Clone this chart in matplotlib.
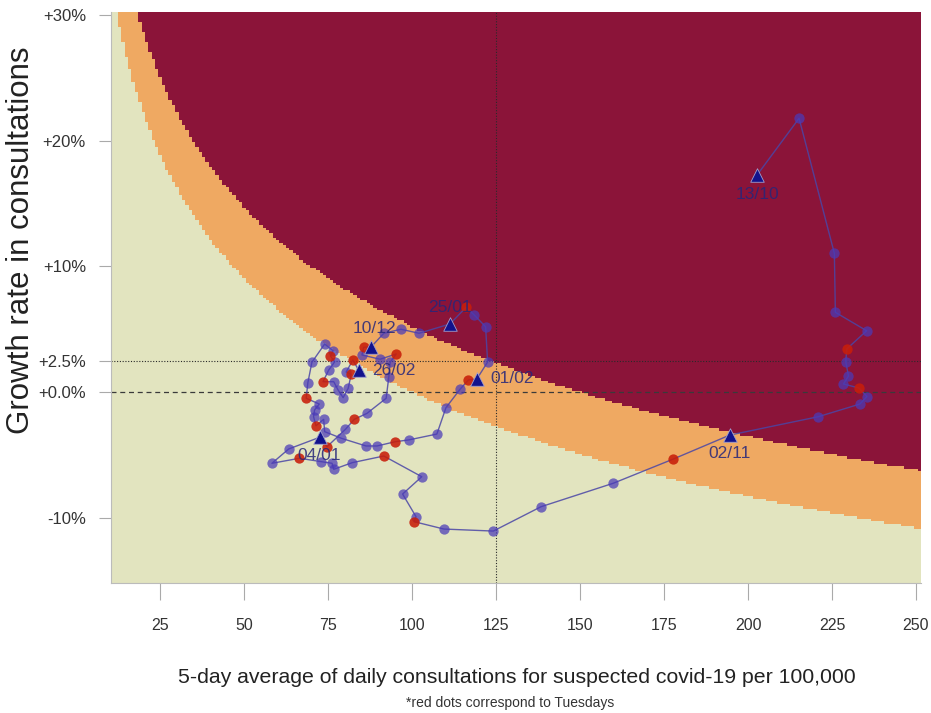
import numpy as np
import matplotlib
matplotlib.use("Agg")
import matplotlib.pyplot as plt
from matplotlib.colors import ListedColormap

# ---------------- data ----------------
level = [202.7, 215.2, 225.7, 226.0, 235.3, 229.4, 229.1, 229.9, 228.4, 233.0,
         235.4, 233.3, 220.9, 194.6, 177.6, 159.9, 138.4, 124.2, 109.5, 100.6,
         101.2, 97.2, 102.9, 91.6, 82.2, 76.7, 76.2, 73.0, 66.5, 58.3,
         63.3, 72.5, 74.7, 80.2, 82.8, 86.6, 92.3, 93.1, 93.5, 95.3,
         90.5, 85.1, 85.6, 87.9, 91.6, 96.7, 102.1, 111.3, 116.1, 118.5,
         121.9, 122.5, 119.3, 116.8, 114.3, 110.1, 107.4, 99.0, 95.0, 89.6,
         86.3, 79.0, 74.0, 73.7, 71.4, 70.7, 71.0, 72.4, 68.5, 69.0,
         70.2, 74.0, 76.5, 75.7, 77.0, 75.2, 73.5, 76.7, 78.0, 79.5,
         81.0, 81.9, 80.4, 82.4, 84.1]
growth = [17.29, 21.81, 11.05, 6.35, 4.88, 3.43, 2.41, 1.27, 0.64, 0.32,
          -0.36, -0.96, -1.97, -3.43, -5.36, -7.27, -9.14, -11.08, -10.92, -10.33,
          -9.94, -8.13, -6.75, -5.10, -5.63, -6.16, -5.68, -5.55, -5.28, -5.68,
          -4.54, -3.61, -4.36, -2.97, -2.18, -1.70, -0.50, 1.22, 2.37, 3.03,
          2.61, 2.95, 3.56, 3.61, 4.68, 5.00, 4.68, 5.42, 6.75, 6.14,
          5.20, 2.39, 1.04, 0.96, 0.22, -1.25, -3.35, -3.82, -3.96, -4.30,
          -4.30, -3.69, -3.16, -2.18, -2.69, -1.97, -1.43, -0.96, -0.50, 0.74,
          2.37, 3.82, 3.29, 2.87, 2.41, 1.75, 0.82, 0.82, 0.16, -0.45,
          0.29, 1.41, 1.59, 2.55, 1.75]
tuesday_idx = [5, 9, 14, 19, 23, 28, 32, 34, 39, 42, 48, 53, 58, 64, 68, 73, 76, 81, 83]
milestone_idx = [0, 13, 31, 43, 47, 52, 84]
milestone_lbl = ["13/10", "02/11", "04/01", "10/12", "25/01", "01/02", "26/02"]

x_ticks = [25, 50, 75, 100, 125, 150, 175, 200, 225, 250]
y_ticks = [30, 20, 10, 2.5, 0, -10]
y_ticklabels = ["+30%", "+20%", "+10%", "+2.5%", "+0.0%", "-10%"]

# zone thresholds: projected level = level * (1 + growth)^horizon
thr_orange = 100
thr_red = 150
horizon = 8
ref_level = 125
ref_growth_hi = 2.5
ref_growth_0 = 0.0

c_green, c_orange, c_red = "#E2E4BF", "#EFA962", "#8B1439"

plt.rcParams['font.family'] = ['Liberation Sans', 'DejaVu Sans']

fig = plt.figure(figsize=(9.31, 7.13), dpi=100)
ax = fig.add_axes([0.1192, 0.1823, 0.8701, 0.8009])

xlim = (10.4, 251.5)
ylim = (-15.22, 30.28)

gx = np.arange(10.0, 253.0, 1.0)
gy = np.arange(-15.4, 30.6, 0.2)
GX, GY = np.meshgrid(gx, gy)
proj = GX * (1 + GY / 100.0) ** horizon
zone = np.where(proj > thr_red, 2, np.where(proj > thr_orange, 1, 0))
ax.pcolormesh(gx, gy, zone, cmap=ListedColormap([c_green, c_orange, c_red]),
              vmin=-0.5, vmax=2.5, shading='nearest', zorder=0)

ax.axvline(ref_level, color="#2a2a2a", lw=0.8, ls=(0, (1, 1.5)), zorder=1)
ax.axhline(ref_growth_hi, color="#2a2a2a", lw=0.8, ls=(0, (1, 1.5)), zorder=1)
ax.axhline(ref_growth_0, color="#3a3a3a", lw=0.9, ls=(0, (4, 3)), zorder=1)

lv = np.array(level)
gr = np.array(growth)
ax.plot(lv, gr, color="#4A46A6", lw=1.0, alpha=0.85, zorder=3)

other = [i for i in range(len(lv)) if i not in tuesday_idx and i not in milestone_idx]
ax.scatter(lv[other], gr[other], s=55, color="#4A3AB8", alpha=0.72, linewidths=0, zorder=4)
ax.scatter(lv[tuesday_idx], gr[tuesday_idx], s=55, color="#C81E0A", alpha=0.88, linewidths=0, zorder=4)
ax.scatter(lv[milestone_idx], gr[milestone_idx], s=95, marker="^", color="#12128C",
           edgecolors="#A0A0D0", linewidths=0.6, zorder=5)

offsets = {"13/10": (0, -14, "center", "center"),
           "02/11": (0, -13, "center", "center"),
           "04/01": (0, -13, "center", "center"),
           "10/12": (2, 13, "center", "center"),
           "25/01": (0, 12, "center", "center"),
           "01/02": (10, 0, "left", "center"),
           "26/02": (10, 0, "left", "center")}
for i, lab in zip(milestone_idx, milestone_lbl):
    dx, dy, ha, va = offsets[lab]
    ax.annotate(lab, (lv[i], gr[i]), xytext=(dx, dy), textcoords="offset points",
                ha=ha, va=va, fontsize=12.5, color="#26267A", alpha=0.85, zorder=6)

ax.set_xlim(*xlim)
ax.set_ylim(*ylim)
ax.set_xticks(x_ticks)
ax.set_xticklabels([str(t) for t in x_ticks])
ax.set_yticks(y_ticks)
ax.set_yticklabels(y_ticklabels)
ax.tick_params(axis="x", length=12, width=0.8, color="#AAAAAA", pad=13,
               labelsize=11.5, labelcolor="#333333")
ax.tick_params(axis="y", length=9, width=0.8, color="#AAAAAA", pad=9,
               labelsize=12, labelcolor="#333333")
for s in ax.spines.values():
    s.set_color("#BBBBBB")
    s.set_linewidth(0.8)
ax.spines["top"].set_visible(False)
ax.spines["right"].set_visible(False)

fig.text(0.0226, 0.6634, "Growth rate in consultations", rotation=90,
         ha="center", va="center", fontsize=22.5, color="#222222")
fig.text(0.5548, 0.0491, "5-day average of daily consultations for suspected covid-19 per 100,000",
         ha="center", va="center", fontsize=15.3, color="#222222")
fig.text(0.548, 0.014, "*red dots correspond to Tuesdays",
         ha="center", va="center", fontsize=10, color="#333333")

fig.savefig("out.png", dpi=100)
